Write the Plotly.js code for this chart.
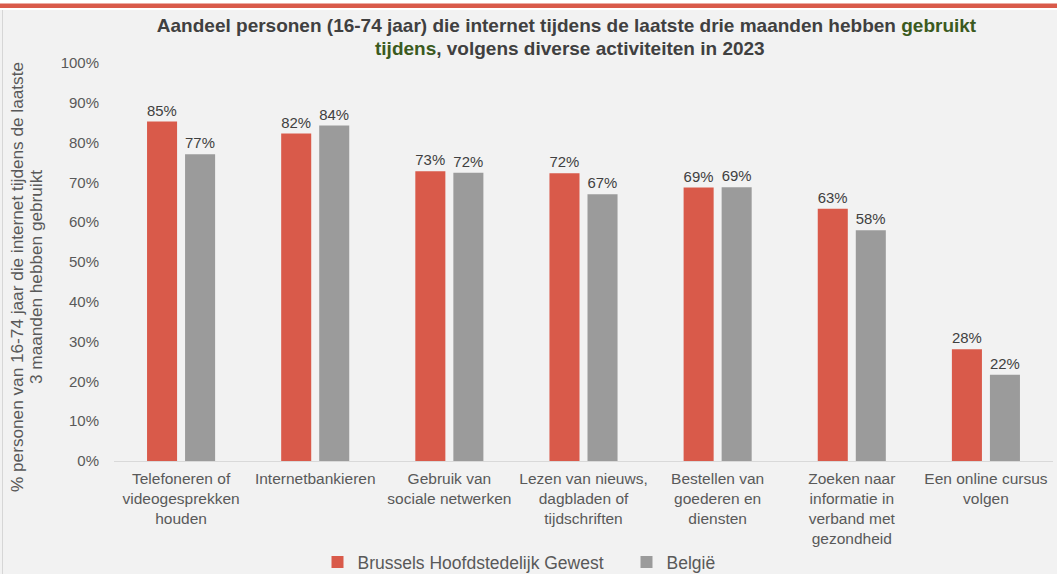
<!DOCTYPE html>
<html>
<head>
<meta charset="utf-8">
<script src="https://cdn.plot.ly/plotly-3.0.1.min.js"></script>
<style>html,body{margin:0;padding:0;background:#f2f2f2;}#chart{width:1057px;height:574px;}</style>
</head>
<body>
<div id="chart"></div>
<script>
const categories = [
  "Telefoneren of<br>videogesprekken<br>houden",
  "Internetbankieren",
  "Gebruik van<br>sociale netwerken",
  "Lezen van nieuws,<br>dagbladen of<br>tijdschriften",
  "Bestellen van<br>goederen en<br>diensten",
  "Zoeken naar<br>informatie in<br>verband met<br>gezondheid",
  "Een online cursus<br>volgen"
];
const brussel = [85.3, 82.3, 72.8, 72.3, 68.7, 63.4, 28.1];
const belgie  = [77.1, 84.3, 72.4, 67.0, 68.8, 58.0, 21.7];
const seriesNames = ["Brussels Hoofdstedelijk Gewest", "België"];
const yTickVals = [0, 10, 20, 30, 40, 50, 60, 70, 80, 90, 100];
const yTickText = ["0%", "10%", "20%", "30%", "40%", "50%", "60%", "70%", "80%", "90%", "100%"];
const titleLine1 = "Aandeel personen (16-74 jaar) die internet tijdens de laatste drie maanden hebben <span style='color:#3b5a1e'>gebruikt</span>";
const titleLine2 = "<span style='color:#3b5a1e'>tijdens</span>, volgens diverse activiteiten in 2023";
const yTitleLine1 = "% personen van 16-74 jaar die internet tijdens de laatste";
const yTitleLine2 = "3 maanden hebben gebruikt";

const FONT = "Liberation Sans, Arial, sans-serif";
const W = 1057, H = 574, L = 114, R = 4, T = 63, B = 113;
const pw = W - L - R, ph = H - T - B;
const px = v => (v - L) / pw;
const py = v => (H - B - v) / ph;

function barTrace(name, vals, color) {
  return {
    type: "bar", name: name, x: categories, y: vals,
    marker: {color: color},
    texttemplate: "%{y:.0f}%", textposition: "outside", cliponaxis: false,
    textfont: {family: FONT, size: 15.5, color: "#404040"},
    hoverinfo: "skip"
  };
}

const data = [
  barTrace(seriesNames[0], brussel, "#d95a4a"),
  barTrace(seriesNames[1], belgie, "#9b9b9b")
];

const titleFont = {family: FONT, size: 19, color: "#404040"};
const yTitleFont = {family: FONT, size: 17.2, color: "#595959"};

const layout = {
  width: W, height: H,
  margin: {l: L, r: R, t: T, b: B},
  paper_bgcolor: "#f2f2f2", plot_bgcolor: "#f2f2f2",
  font: {family: FONT, color: "#595959"},
  barmode: "group", bargap: 0.433, bargroupgap: 0.21,
  title: {
    text: "<b>" + titleLine1 + "</b>",
    font: titleFont,
    x: 566.5 / W, xanchor: "center", xref: "container",
    y: 1 - 25 / H, yanchor: "middle", yref: "container"
  },
  xaxis: {
    showline: true, linecolor: "#d9d9d9", linewidth: 1,
    showgrid: false, ticks: "",
    tickfont: {family: FONT, size: 15.5, color: "#595959"},
    ticklabelstandoff: 3,
    automargin: false
  },
  yaxis: {
    range: [0, 100], tickmode: "array", tickvals: yTickVals, ticktext: yTickText,
    showgrid: false, zeroline: false, showline: false, ticks: "",
    tickfont: {family: FONT, size: 15, color: "#595959"},
    ticklabelstandoff: 14,
    automargin: false
  },
  showlegend: true,
  legend: {
    orientation: "h", xref: "container", yref: "container",
    x: 317.5 / W, xanchor: "left", y: 1 - 562 / H, yanchor: "middle",
    font: {family: FONT, size: 17.5, color: "#595959"},
    bgcolor: "rgba(0,0,0,0)", traceorder: "normal",
    entrywidth: 264, entrywidthmode: "pixels"
  },
  annotations: [
    {
      text: "<b>" + titleLine2 + "</b>",
      xref: "paper", yref: "paper", x: px(570), y: py(48),
      xanchor: "center", yanchor: "middle", showarrow: false,
      font: titleFont
    },
    {
      text: yTitleLine1,
      xref: "paper", yref: "paper", x: px(17), y: py(277),
      xanchor: "center", yanchor: "middle", textangle: -90, showarrow: false,
      font: yTitleFont
    },
    {
      text: yTitleLine2,
      xref: "paper", yref: "paper", x: px(36), y: py(277),
      xanchor: "center", yanchor: "middle", textangle: -90, showarrow: false,
      font: yTitleFont
    }
  ],
  shapes: [
    {type: "rect", xref: "paper", yref: "paper", x0: px(0), x1: px(W), y0: py(0), y1: py(10), fillcolor: "#ffffff", line: {width: 0}, layer: "below"},
    {type: "rect", xref: "paper", yref: "paper", x0: px(0), x1: px(W), y0: py(3.5), y1: py(8), fillcolor: "#d95a4a", line: {width: 0}},
    {type: "line", xref: "paper", yref: "paper", x0: px(2.5), x1: px(2.5), y0: py(10), y1: py(H), line: {color: "#d6d6d6", width: 1}}
  ]
};

Plotly.newPlot("chart", data, layout, {displayModeBar: false, staticPlot: true});
</script>
</body>
</html>
